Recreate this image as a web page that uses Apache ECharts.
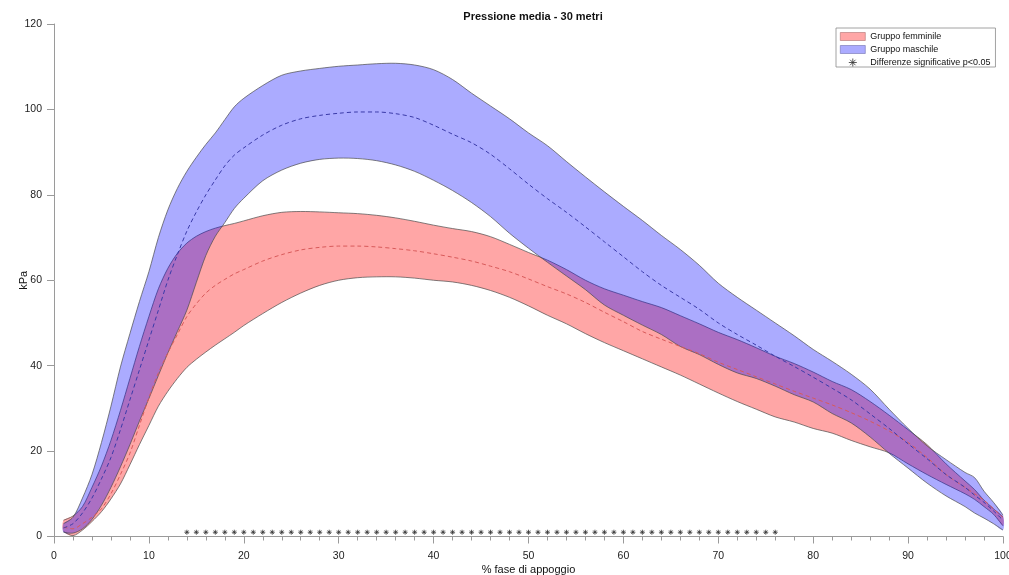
<!DOCTYPE html>
<html>
<head>
<meta charset="utf-8">
<title>Pressione media - 30 metri</title>
<script src="https://cdn.jsdelivr.net/npm/echarts@6/dist/echarts.min.js"></script>
<style>
  html, body { margin: 0; padding: 0; background: #ffffff; }
  #chart { width: 1009px; height: 575px; }
</style>
</head>
<body>
<div id="chart"></div>
<script>
// Stance phase (% fase di appoggio)
const xPct = [1,2,3,4,5,6,7,8,9,10,11,12,13,14,15,16,17,18,19,20,
  22,24,26,28,30,32,34,36,38,40,42,44,46,48,50,52,54,56,58,60,62,64,66,68,70,72,74,76,78,80,82,84,86,88,90,92,94,96,
  97,98,99,100];

// Female group: lower band edge, mean, upper band edge (kPa)
const femLow = [1.2,0.2,1.5,3.5,5.8,8.8,12.3,16.8,21.5,26,30.5,34,37,39.6,41.5,43.2,44.8,46.3,47.8,49.4,
  52.2,54.8,57,58.8,60,60.6,60.8,60.8,60.5,60,59.6,58.8,57.6,56,54,51.8,49.8,47.5,45.4,43.5,41.6,39.7,37.8,35.7,33.6,31.6,29.8,28,26.8,25.3,24.2,22.5,21,19.6,17,14.5,12.2,10,
  8.7,7,5.2,2.5];
const femMean = [2.2,1.8,3,4.5,6.5,10,14.5,19.5,26,32.5,38.3,43,47.3,51.5,54.5,57,58.8,60.2,61.5,62.5,
  64.5,66,67.1,67.7,68,68,67.8,67.4,66.9,66.2,65.4,64.5,63.3,62,60.3,58.5,56.8,54.8,52.5,50.3,48,46.2,44.5,42.8,40.8,39.1,37.4,35.7,34,32.4,30.8,29,27,24.7,22,18.5,14.5,11.5,
  10,8.5,6.5,4.5];
const femHigh = [3.8,4.8,7,11.5,16.5,22.5,29.5,37,44.5,51.5,58,62.8,66.3,68.7,70.3,71.4,72.2,72.8,73.3,73.9,
  75.1,75.9,76.1,76,75.8,75.6,75.2,74.6,73.8,72.9,72.1,71.4,70.2,68.4,66.5,64.7,62.5,60,58,56.5,55,53.6,51.7,49.8,47.8,46.1,44.2,42.2,40.5,38.5,36.3,34.4,31.6,28.4,25,21.5,17,13,
  11,8.5,6.5,4.6];

// Male group: lower band edge, mean, upper band edge (kPa)
const maleLow = [1.0,0.8,1.8,4,7.3,11.5,16.3,21.5,27,32.3,37.7,43,48,53,59.5,65.8,70.3,73.5,76.8,79.2,
  83.3,85.8,87.4,88.3,88.6,88.5,88,87,85.5,83.4,81,78.2,74.9,71,67.5,64.2,61,57.8,54.2,51.8,49.5,47.3,44.5,42.6,40.3,38.3,37,35.2,33.2,31.5,28.8,26.6,23.3,19.5,16,12.5,9.5,7,
  5.5,4.3,3,1.5];
const maleMean = [2,3,5.5,9,13.5,18.5,25,32,39,46,53,60,66,71.5,76,80,83.5,86.8,89.3,91,
  94,96.3,97.8,98.6,99.1,99.4,99.4,99,98.1,96.3,94.2,92.2,89.5,86.1,82.5,79.1,75.9,72.5,69,65.5,62,58.8,56,53.2,50,47.3,44.8,42.2,39.8,37.3,34.7,32,28.7,25.3,21.7,18.2,14.5,11.5,
  9.7,8,6,3.8];
const maleHigh = [3.0,4.5,9,14.5,22,30.5,39.7,47.5,55,62,70,76.5,81.5,85.5,88.8,91.8,94.5,97.6,100.6,102.6,
  105.6,108,109,109.6,110.1,110.4,110.7,110.8,110.4,109.3,107,103.8,100.8,97.8,94.5,91.5,87.8,84.2,80.7,77.3,74,70.5,67.2,63.5,59.3,56,53,50,47,43.8,41,38,34.5,29.8,25.3,21.2,18,15,
  13.8,10.6,8,5];

// Stance-phase points with a significant group difference (p<0.05)
const sigPct = [14,15,16,17,18,19,20,21,22,23,24,25,26,27,28,29,30,31,32,33,34,35,36,37,38,39,40,
  41,42,43,44,45,46,47,48,49,50,51,52,53,54,55,56,57,58,59,60,61,62,63,64,65,66,67,68,69,70,71,72,73,74,75,76];
const sigLevel = 1;

const FONT = '"Liberation Sans", Arial, Helvetica, sans-serif';
const FEM_FILL = 'rgba(255,0,0,0.35)';
const MALE_FILL = 'rgba(0,0,255,0.33)';
const EDGE = '#4a4a4a';
const STAR = 'path://M5,0L5,10M0,5L10,5M1.6,1.6L8.4,8.4M8.4,1.6L1.6,8.4';
const SMOOTH = 0.3;

// A shaded band between two edges, drawn as one polygon with outlined edges
function bandSeries(name, low, high, fill, z) {
  return {
    name: name,
    type: 'custom',
    z: z,
    silent: true,
    itemStyle: { color: fill },
    data: xPct.map((x, i) => [x, low[i], high[i]]),
    encode: { x: 0, y: [1, 2] },
    renderItem: function (params, api) {
      if (params.dataIndex !== 0) return null;
      const upper = xPct.map((x, i) => api.coord([x, high[i]]));
      const lower = xPct.map((x, i) => api.coord([x, low[i]]));
      return {
        type: 'group',
        children: [
          { type: 'polygon',
            shape: { points: upper.concat(lower.slice().reverse()), smooth: SMOOTH },
            style: { fill: fill, stroke: null } },
          { type: 'polyline', shape: { points: upper, smooth: SMOOTH },
            style: { fill: null, stroke: EDGE, lineWidth: 0.7 } },
          { type: 'polyline', shape: { points: lower, smooth: SMOOTH },
            style: { fill: null, stroke: EDGE, lineWidth: 0.7 } }
        ]
      };
    }
  };
}

function meanSeries(name, values, color, z) {
  return {
    name: name,
    type: 'line',
    z: z,
    silent: true,
    symbol: 'none',
    smooth: SMOOTH,
    data: xPct.map((x, i) => [x, values[i]]),
    lineStyle: { color: color, width: 1, type: [4, 3] }
  };
}

const chart = echarts.init(document.getElementById('chart'), null, { renderer: 'canvas' });

chart.setOption({
  animation: false,
  backgroundColor: '#ffffff',
  textStyle: { fontFamily: FONT },
  title: {
    text: 'Pressione media - 30 metri',
    left: 528,
    top: 6,
    textAlign: 'center',
    textStyle: { fontFamily: FONT, fontSize: 11, fontWeight: 'bold', color: '#111' }
  },
  legend: {
    orient: 'vertical',
    left: 836,
    top: 28,
    selectedMode: false,
    itemWidth: 25,
    itemHeight: 8,
    itemGap: 4,
    padding: [4, 5, 0, 4],
    borderColor: '#8a8a8a',
    borderWidth: 0.8,
    backgroundColor: '#ffffff',
    textStyle: { fontFamily: FONT, fontSize: 9, color: '#111' },
    data: [
      { name: 'Gruppo femminile', icon: 'rect',
        itemStyle: { color: FEM_FILL, borderColor: '#b07070', borderWidth: 0.6 } },
      { name: 'Gruppo maschile', icon: 'rect',
        itemStyle: { color: MALE_FILL, borderColor: '#7070b0', borderWidth: 0.6 } },
      { name: 'Differenze significative p<0.05', icon: STAR,
        itemStyle: { color: '#333', borderColor: '#333', borderWidth: 1 } }
    ]
  },
  grid: { left: 54, right: 6, top: 24, bottom: 38.5, outerBoundsMode: 'none', containLabel: false },
  xAxis: {
    type: 'value',
    min: 0,
    max: 100,
    interval: 10,
    name: '% fase di appoggio',
    nameLocation: 'middle',
    nameGap: 28,
    nameMoveOverlap: false,
    nameTextStyle: { fontFamily: FONT, fontSize: 11, color: '#111' },
    axisLine: { show: true, lineStyle: { color: '#9a9a9a', width: 1 } },
    axisTick: { show: true, length: 7, lineStyle: { color: '#9a9a9a' } },
    minorTick: { show: true, splitNumber: 5, length: 4, lineStyle: { color: '#9a9a9a' } },
    axisLabel: { margin: 14, fontFamily: FONT, fontSize: 10.5, color: '#222' },
    splitLine: { show: false }
  },
  yAxis: {
    type: 'value',
    min: 0,
    max: 120,
    interval: 20,
    name: 'kPa',
    nameLocation: 'middle',
    nameGap: 25,
    nameMoveOverlap: false,
    nameTextStyle: { fontFamily: FONT, fontSize: 11, color: '#111' },
    axisLine: { show: true, lineStyle: { color: '#9a9a9a', width: 1 } },
    axisTick: { show: true, length: 7, lineStyle: { color: '#9a9a9a' } },
    axisLabel: { margin: 12, fontFamily: FONT, fontSize: 10.5, color: '#222' },
    splitLine: { show: false }
  },
  series: [
    bandSeries('Gruppo femminile', femLow, femHigh, FEM_FILL, 2),
    bandSeries('Gruppo maschile', maleLow, maleHigh, MALE_FILL, 3),
    meanSeries('Media femminile', femMean, '#d85a5a', 4),
    meanSeries('Media maschile', maleMean, '#3a3aa8', 5),
    {
      name: 'Differenze significative p<0.05',
      type: 'scatter',
      z: 6,
      silent: true,
      symbol: STAR,
      symbolSize: 5,
      itemStyle: { color: '#333', borderColor: '#333', borderWidth: 1 },
      data: sigPct.map(x => [x, sigLevel])
    }
  ]
});
</script>
</body>
</html>
